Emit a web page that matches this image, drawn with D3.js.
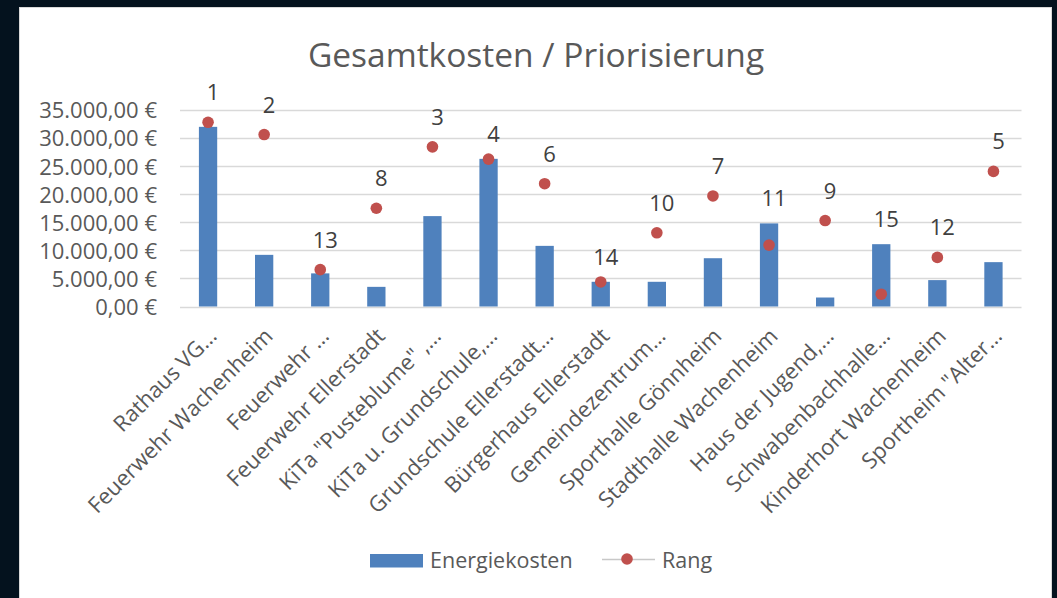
<!DOCTYPE html>
<html>
<head>
<meta charset="utf-8">
<script src="https://cdn.jsdelivr.net/npm/d3@7"></script>
<style>
  html, body { margin: 0; padding: 0; background: #04121e; }
  svg { display: block; }
  text { font-family: "Open Sans", "Noto Sans", sans-serif; }
</style>
</head>
<body>
<svg id="chart" width="1057" height="598"></svg>
<script>
// ---- data ----
const categories = [
  "Rathaus VG\u2026",
  "Feuerwehr Wachenheim",
  "Feuerwehr \u2026",
  "Feuerwehr Ellerstadt",
  "KiTa \"Pusteblume\" ,\u2026",
  "KiTa u. Grundschule,\u2026",
  "Grundschule Ellerstadt\u2026",
  "B\u00fcrgerhaus Ellerstadt",
  "Gemeindezentrum\u2026",
  "Sporthalle G\u00f6nnheim",
  "Stadthalle Wachenheim",
  "Haus der Jugend,\u2026",
  "Schwabenbachhalle\u2026",
  "Kinderhort Wachenheim",
  "Sportheim \"Alter\u2026"
];
const energiekosten = [32000, 9200, 5900, 3500, 16100, 26300, 10800, 4400, 4400, 8600, 14800, 1600, 11100, 4700, 7900];
const rang = [1, 2, 13, 8, 3, 4, 6, 14, 10, 7, 11, 9, 15, 12, 5];
const yTicks = [0, 5000, 10000, 15000, 20000, 25000, 30000, 35000];
const title = "Gesamtkosten / Priorisierung";
const seriesNames = ["Energiekosten", "Rang"];

// ---- drawing ----
const svg = d3.select("#chart");
const barColor = "#4f81bd", dotColor = "#c0504d", textColor = "#595959", gridColor = "#d9d9d9";

svg.append("rect").attr("x", 19.5).attr("y", 7.5).attr("width", 1032).attr("height", 620)
  .attr("fill", "#ffffff").attr("stroke", "#d9d9d9").attr("stroke-width", 1);

const plot = { left: 180, right: 1021.5, top: 110, bottom: 306.5 };

const x = d3.scaleBand().domain(categories).range([plot.left, plot.right])
  .paddingInner(0.674).paddingOuter(0.337);
const y = d3.scaleLinear().domain([0, 35000]).range([plot.bottom, plot.top]);
const y2 = d3.scaleLinear().domain([0, 16]).range([plot.top, plot.bottom]);

const fmt = v => {
  const s = d3.format(",.2f")(v);
  return s.replace(/,/g, "X").replace(/\./g, ",").replace(/X/g, ".") + " \u20ac";
};

// gridlines
svg.append("g").selectAll("line").data(yTicks).join("line")
  .attr("x1", plot.left).attr("x2", plot.right)
  .attr("y1", d => Math.round(y(d)) + 0.5).attr("y2", d => Math.round(y(d)) + 0.5)
  .attr("stroke", gridColor).attr("stroke-width", 1.3);

// y axis labels
const yAxis = d3.axisLeft(y).tickValues(yTicks).tickFormat(fmt).tickSize(0).tickPadding(0);
const gy = svg.append("g").attr("transform", "translate(157,0)").call(yAxis);
gy.select(".domain").remove();
gy.selectAll("text").attr("fill", textColor).style("font-size", "22px")
  .style("font-family", "'Open Sans', sans-serif").attr("dy", "0.36em");

// bars
svg.append("g").selectAll("rect").data(energiekosten).join("rect")
  .attr("x", (d, i) => x(categories[i]))
  .attr("width", x.bandwidth())
  .attr("y", d => y(d))
  .attr("height", d => y(0) - y(d))
  .attr("fill", barColor);

// x axis labels
const xAxis = d3.axisBottom(x).tickSize(0).tickPadding(0);
const gx = svg.append("g").attr("transform", `translate(0,${plot.bottom})`).call(xAxis);
gx.select(".domain").remove();
gx.selectAll("text")
  .attr("fill", textColor).style("font-size", "22px")
  .style("font-family", "'Open Sans', sans-serif")
  .attr("text-anchor", "end")
  .attr("dy", null).attr("y", null)
  .attr("transform", "translate(10,31) rotate(-45)");

// dots
const cx = i => x(categories[i]) + x.bandwidth() / 2;
svg.append("g").selectAll("circle").data(rang).join("circle")
  .attr("cx", (d, i) => cx(i))
  .attr("cy", d => y2(d))
  .attr("r", 5.8)
  .attr("fill", dotColor);

// data labels
svg.append("g").selectAll("text").data(rang).join("text")
  .attr("x", (d, i) => cx(i) + 5)
  .attr("y", (d, i) => {
    const dotY = y2(d), barTop = y(energiekosten[i]);
    const center = dotY > barTop ? barTop - 25 : dotY - 30;
    return center + 8;
  })
  .attr("text-anchor", "middle")
  .attr("fill", "#404040")
  .style("font-size", "22px")
  .text(d => d);

// title
svg.append("text").attr("x", 536).attr("y", 67).attr("text-anchor", "middle")
  .attr("fill", textColor).style("font-size", "33.5px").text(title);

// legend
const lg = svg.append("g");
lg.append("rect").attr("x", 370).attr("y", 554).attr("width", 53).attr("height", 13.5).attr("fill", barColor);
lg.append("text").attr("x", 430).attr("y", 568).attr("fill", textColor).style("font-size", "21.5px").text(seriesNames[0]);
lg.append("line").attr("x1", 602).attr("x2", 655).attr("y1", 559.5).attr("y2", 559.5)
  .attr("stroke", "#c8c8c8").attr("stroke-width", 1.5);
lg.append("circle").attr("cx", 627).attr("cy", 559).attr("r", 5.8).attr("fill", dotColor);
lg.append("text").attr("x", 662).attr("y", 568).attr("fill", textColor).style("font-size", "21.5px").text(seriesNames[1]);
</script>
</body>
</html>
